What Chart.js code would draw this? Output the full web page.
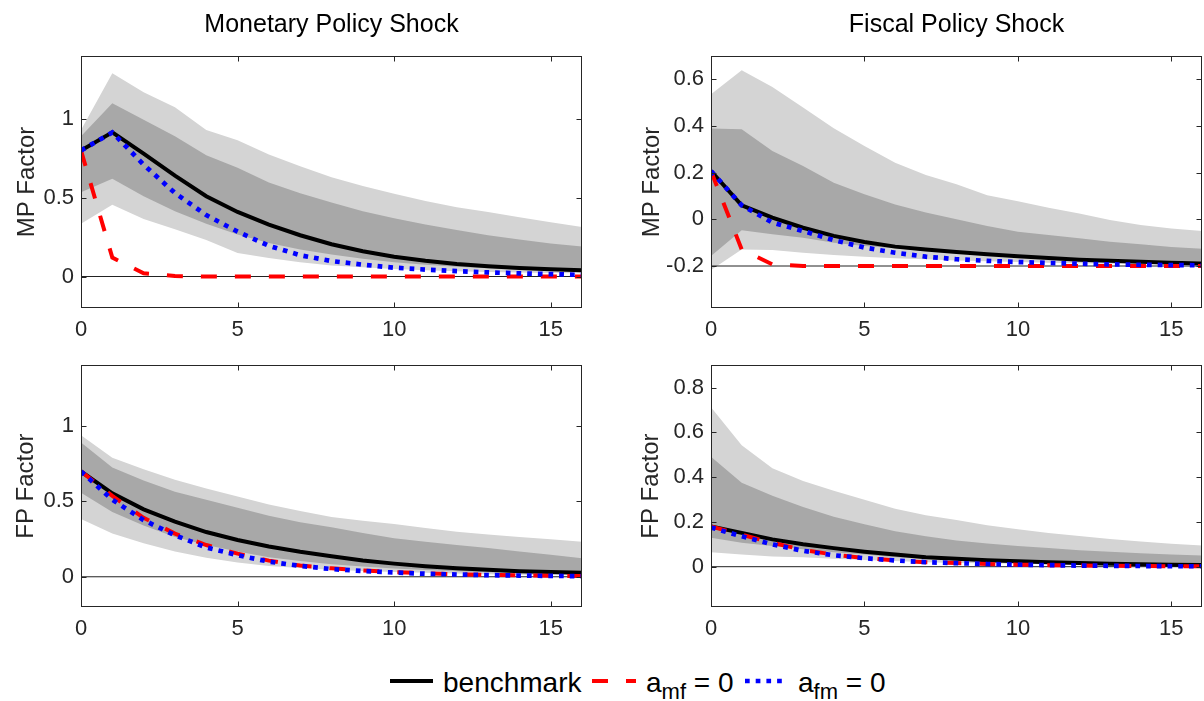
<!DOCTYPE html>
<html>
<head>
<meta charset="utf-8">
<script src="https://cdn.jsdelivr.net/npm/chart.js@4.4.1/dist/chart.umd.min.js"></script>
<style>
  html, body { margin: 0; padding: 0; background: #fff; }
  #fig { position: relative; width: 1204px; height: 701px; overflow: hidden;
         font-family: 'Liberation Sans', Arial, Helvetica, sans-serif; }
  #fig canvas { position: absolute; }
  .lg { position: absolute; top: 667px; font-size: 28px; line-height: 32px; color: #000; white-space: nowrap; }
  .lg .sb { font-size: 22px; position: relative; top: 7px; }
  .sample { position: absolute; top: 676px; }
</style>
</head>
<body>
<div id="fig">
  <canvas id="tl" width="600" height="345" style="left:0;top:0"></canvas>
  <canvas id="tr" width="604" height="345" style="left:600px;top:0"></canvas>
  <canvas id="bl" width="600" height="305" style="left:0;top:345px"></canvas>
  <canvas id="br" width="604" height="305" style="left:600px;top:345px"></canvas>

  <svg class="sample" style="left:390px" width="43" height="10"><line x1="0" y1="5" x2="43" y2="5" stroke="#000" stroke-width="4"/></svg>
  <span class="lg" style="left:443px">benchmark</span>
  <svg class="sample" style="left:592px" width="44" height="10"><line x1="0" y1="5" x2="44" y2="5" stroke="#ff0000" stroke-width="4" stroke-dasharray="16 18"/></svg>
  <span class="lg" style="left:646px">a<span class="sb">mf</span> = 0</span>
  <svg class="sample" style="left:745px" width="37" height="10"><line x1="0" y1="5" x2="37" y2="5" stroke="#0000ff" stroke-width="4.7" stroke-dasharray="4.7 6"/></svg>
  <span class="lg" style="left:798px">a<span class="sb">fm</span> = 0</span>
</div>
<script>
const FONT = "'Liberation Sans', Arial, Helvetica, sans-serif";
const LIGHT = 'rgb(212,212,212)';
const DARK = 'rgb(168,168,168)';

const horizon = [0, 1, 2, 3, 4, 5, 6, 7, 8, 9, 10, 11, 12, 13, 14, 15, 16];
const xTicks = [0, 5, 10, 15];

// MP factor, monetary policy shock
const mpMonBench = [0.80, 0.915, 0.78, 0.64, 0.51, 0.41, 0.33, 0.262, 0.205, 0.16, 0.125, 0.10, 0.08, 0.065, 0.054, 0.046, 0.04];
const mpMonAmf   = [0.80, 0.12, 0.02, 0.003, 0, 0, 0, 0, 0, 0, 0, 0, 0, 0, 0, 0, 0];
const mpMonAfm   = [0.80, 0.915, 0.71, 0.53, 0.39, 0.285, 0.195, 0.135, 0.098, 0.075, 0.056, 0.044, 0.034, 0.026, 0.02, 0.015, 0.01];
const mpMonOuterHi = [0.93, 1.29, 1.17, 1.075, 0.93, 0.865, 0.775, 0.70, 0.63, 0.575, 0.525, 0.48, 0.44, 0.41, 0.376, 0.345, 0.315];
const mpMonOuterLo = [0.335, 0.455, 0.365, 0.30, 0.232, 0.15, 0.118, 0.09, 0.07, 0.058, 0.048, 0.04, 0.034, 0.029, 0.025, 0.022, 0.02];
const mpMonInnerHi = [0.89, 1.10, 0.995, 0.89, 0.77, 0.69, 0.597, 0.528, 0.47, 0.415, 0.37, 0.33, 0.295, 0.262, 0.235, 0.21, 0.19];
const mpMonInnerLo = [0.535, 0.62, 0.51, 0.414, 0.335, 0.266, 0.213, 0.172, 0.14, 0.112, 0.09, 0.075, 0.062, 0.052, 0.044, 0.038, 0.035];

// MP factor, fiscal policy shock
const mpFisBench = [0.207, 0.06, 0.007, -0.036, -0.071, -0.097, -0.117, -0.129, -0.14, -0.15, -0.158, -0.166, -0.173, -0.178, -0.182, -0.186, -0.189];
const mpFisAmf   = [0.207, -0.129, -0.193, -0.2, -0.2, -0.2, -0.2, -0.2, -0.2, -0.2, -0.2, -0.2, -0.2, -0.2, -0.2, -0.2, -0.2];
const mpFisAfm   = [0.207, 0.06, -0.014, -0.05, -0.089, -0.121, -0.143, -0.16, -0.171, -0.178, -0.183, -0.187, -0.19, -0.193, -0.195, -0.196, -0.197];
const mpFisOuterHi = [0.536, 0.639, 0.567, 0.479, 0.39, 0.314, 0.243, 0.19, 0.15, 0.103, 0.077, 0.05, 0.025, -0.003, -0.024, -0.039, -0.05];
const mpFisOuterLo = [-0.217, -0.129, -0.131, -0.143, -0.153, -0.16, -0.167, -0.171, -0.176, -0.18, -0.183, -0.186, -0.188, -0.19, -0.191, -0.192, -0.193];
const mpFisInnerHi = [0.389, 0.386, 0.293, 0.229, 0.157, 0.107, 0.064, 0.029, 0.0, -0.029, -0.053, -0.067, -0.081, -0.096, -0.107, -0.119, -0.126];
const mpFisInnerLo = [-0.157, -0.047, -0.064, -0.079, -0.1, -0.114, -0.124, -0.136, -0.143, -0.15, -0.157, -0.162, -0.167, -0.171, -0.175, -0.178, -0.181];

// FP factor, monetary policy shock
const fpMonBench = [0.697, 0.552, 0.446, 0.365, 0.296, 0.243, 0.2, 0.165, 0.136, 0.108, 0.087, 0.07, 0.056, 0.046, 0.037, 0.031, 0.027];
const fpMonAmf   = [0.697, 0.535, 0.39, 0.286, 0.21, 0.153, 0.107, 0.074, 0.056, 0.042, 0.031, 0.023, 0.017, 0.012, 0.009, 0.006, 0.005];
const fpMonAfm   = [0.697, 0.51, 0.375, 0.275, 0.194, 0.143, 0.1, 0.072, 0.051, 0.038, 0.028, 0.02, 0.015, 0.011, 0.008, 0.006, 0.004];
const fpMonOuterHi = [0.936, 0.787, 0.712, 0.642, 0.584, 0.531, 0.478, 0.435, 0.395, 0.37, 0.35, 0.322, 0.298, 0.28, 0.264, 0.248, 0.232];
const fpMonOuterLo = [0.382, 0.286, 0.222, 0.168, 0.126, 0.094, 0.072, 0.058, 0.047, 0.038, 0.031, 0.026, 0.021, 0.017, 0.014, 0.012, 0.01];
const fpMonInnerHi = [0.889, 0.723, 0.637, 0.563, 0.51, 0.456, 0.403, 0.36, 0.328, 0.29, 0.255, 0.232, 0.21, 0.19, 0.168, 0.145, 0.122];
const fpMonInnerLo = [0.556, 0.429, 0.339, 0.264, 0.211, 0.168, 0.13, 0.104, 0.083, 0.068, 0.055, 0.045, 0.037, 0.03, 0.025, 0.02, 0.017];

// FP factor, fiscal policy shock
const fpFisBench = [0.18, 0.151, 0.122, 0.1, 0.083, 0.067, 0.054, 0.042, 0.035, 0.029, 0.024, 0.02, 0.016, 0.013, 0.011, 0.009, 0.008];
const fpFisAmf   = [0.18, 0.143, 0.107, 0.075, 0.054, 0.039, 0.028, 0.02, 0.016, 0.012, 0.009, 0.007, 0.005, 0.004, 0.003, 0.002, 0.002];
const fpFisAfm   = [0.175, 0.136, 0.1, 0.071, 0.051, 0.038, 0.028, 0.02, 0.016, 0.012, 0.009, 0.007, 0.005, 0.004, 0.003, 0.002, 0.002];
const fpFisOuterHi = [0.712, 0.542, 0.44, 0.383, 0.339, 0.299, 0.259, 0.23, 0.209, 0.185, 0.167, 0.15, 0.137, 0.124, 0.112, 0.103, 0.095];
const fpFisOuterLo = [0.064, 0.054, 0.046, 0.042, 0.035, 0.03, 0.025, 0.02, 0.017, 0.015, 0.013, 0.011, 0.009, 0.008, 0.007, 0.006, 0.005];
const fpFisInnerHi = [0.491, 0.375, 0.317, 0.267, 0.223, 0.19, 0.158, 0.136, 0.117, 0.104, 0.093, 0.083, 0.074, 0.067, 0.06, 0.055, 0.05];
const fpFisInnerLo = [0.129, 0.107, 0.093, 0.078, 0.064, 0.054, 0.042, 0.035, 0.028, 0.023, 0.019, 0.016, 0.013, 0.011, 0.009, 0.008, 0.007];

const yTicksMonetary = [0, 0.5, 1];
const yTicksMpFiscal = [-0.2, 0, 0.2, 0.4, 0.6];
const yTicksFpFiscal = [0, 0.2, 0.4, 0.6, 0.8];

// axes box with inward ticks on all sides, plus title and ylabel
const boxPlugin = {
  id: 'matlabBox',
  afterDatasetsDraw(chart, args, opts) {
    const ctx = chart.ctx;
    const { left, right, top, bottom } = chart.chartArea;
    const l = Math.round(left) + 0.5, r = Math.round(right) - 0.5;
    const t = Math.round(top) + 0.5, b = Math.round(bottom) - 0.5;
    ctx.save();
    ctx.strokeStyle = '#262626';
    ctx.lineWidth = 1;
    ctx.strokeRect(l, t, r - l, b - t);
    ctx.beginPath();
    chart.scales.x.ticks.forEach(tk => {
      const px = Math.round(chart.scales.x.getPixelForValue(tk.value)) + 0.5;
      ctx.moveTo(px, b); ctx.lineTo(px, b - 5);
      ctx.moveTo(px, t); ctx.lineTo(px, t + 5);
    });
    chart.scales.y.ticks.forEach(tk => {
      const py = Math.round(chart.scales.y.getPixelForValue(tk.value)) + 0.5;
      ctx.moveTo(l, py); ctx.lineTo(l + 5, py);
      ctx.moveTo(r, py); ctx.lineTo(r - 5, py);
    });
    ctx.stroke();
    ctx.restore();
  },
  afterDraw(chart, args, opts) {
    const ctx = chart.ctx;
    const { left, right, top, bottom } = chart.chartArea;
    ctx.save();
    if (opts.title) {
      ctx.font = '25px ' + FONT;
      ctx.fillStyle = '#000';
      ctx.textAlign = 'center';
      ctx.textBaseline = 'alphabetic';
      ctx.fillText(opts.title, (left + right) / 2, opts.titleY);
    }
    ctx.font = '24px ' + FONT;
    ctx.fillStyle = '#262626';
    ctx.translate(opts.labelX, (top + bottom) / 2);
    ctx.rotate(-Math.PI / 2);
    ctx.textAlign = 'center';
    ctx.textBaseline = 'alphabetic';
    ctx.fillText(opts.yLabel, 0, 0);
    ctx.restore();
  }
};

function toPoints(ys) {
  return horizon.map((h, i) => ({ x: h, y: ys[i] }));
}

function makePanel(cfg) {
  const band = (ys, color, target, order) => ({
    data: toPoints(ys),
    borderColor: 'transparent',
    borderWidth: 0,
    backgroundColor: color || 'transparent',
    fill: target === undefined ? false : target,
    order: order
  });
  const datasets = [
    band(cfg.outerLo, null, undefined, 6),
    band(cfg.outerHi, LIGHT, 0, 6),
    band(cfg.innerLo, null, undefined, 5),
    band(cfg.innerHi, DARK, 2, 5),
    { data: [{ x: 0, y: cfg.refLevel }, { x: 16, y: cfg.refLevel }], borderColor: '#222', borderWidth: 1, order: 4 },
    { label: 'benchmark', data: toPoints(cfg.bench), borderColor: '#000', borderWidth: 4, order: 3 },
    { label: 'a_mf = 0', data: toPoints(cfg.amf), borderColor: '#ff0000', borderWidth: 4, borderDash: [16, 18], order: 2 },
    { label: 'a_fm = 0', data: toPoints(cfg.afm), borderColor: '#0000ff', borderWidth: 4.7, borderDash: [4.7, 6], order: 1 }
  ];

  new Chart(document.getElementById(cfg.id), {
    type: 'line',
    data: { datasets },
    plugins: [boxPlugin],
    options: {
      responsive: false,
      animation: false,
      devicePixelRatio: 1,
      layout: { padding: { left: 0, top: cfg.padTop, right: cfg.padRight, bottom: 0 } },
      elements: { point: { radius: 0 }, line: { tension: 0, borderCapStyle: 'butt' } },
      plugins: {
        legend: { display: false },
        tooltip: { enabled: false },
        matlabBox: { title: cfg.title, titleY: 32, yLabel: cfg.yLabel, labelX: cfg.labelX }
      },
      scales: {
        x: {
          type: 'linear', min: 0, max: 16,
          grid: { display: false, drawTicks: false },
          border: { display: false },
          ticks: { color: '#262626', font: { family: FONT, size: 22 }, padding: 9, maxRotation: 0, autoSkip: false, callback: v => String(v) },
          afterBuildTicks: s => { s.ticks = xTicks.map(v => ({ value: v })); },
          afterFit: s => { s.height = cfg.xAxisH; }
        },
        y: {
          type: 'linear', min: cfg.yMin, max: cfg.yMax,
          grid: { display: false, drawTicks: false },
          border: { display: false },
          ticks: { color: '#262626', font: { family: FONT, size: 22 }, padding: 7, autoSkip: false, callback: v => String(v) },
          afterBuildTicks: s => { s.ticks = cfg.yTicks.map(v => ({ value: v })); },
          afterFit: s => { s.width = cfg.yAxisW; }
        }
      }
    }
  });
}

makePanel({
  id: 'tl', title: 'Monetary Policy Shock', yLabel: 'MP Factor', labelX: 34,
  yMin: -0.2, yMax: 1.4, yTicks: yTicksMonetary, refLevel: 0,
  yAxisW: 81, padTop: 56, padRight: 18, xAxisH: 37,
  bench: mpMonBench, amf: mpMonAmf, afm: mpMonAfm,
  outerHi: mpMonOuterHi, outerLo: mpMonOuterLo, innerHi: mpMonInnerHi, innerLo: mpMonInnerLo
});
makePanel({
  id: 'tr', title: 'Fiscal Policy Shock', yLabel: 'MP Factor', labelX: 59,
  yMin: -0.38, yMax: 0.7, yTicks: yTicksMpFiscal, refLevel: -0.2,
  yAxisW: 111, padTop: 56, padRight: 2, xAxisH: 37,
  bench: mpFisBench, amf: mpFisAmf, afm: mpFisAfm,
  outerHi: mpFisOuterHi, outerLo: mpFisOuterLo, innerHi: mpFisInnerHi, innerLo: mpFisInnerLo
});
makePanel({
  id: 'bl', title: null, yLabel: 'FP Factor', labelX: 33,
  yMin: -0.2, yMax: 1.4, yTicks: yTicksMonetary, refLevel: 0,
  yAxisW: 81, padTop: 12, padRight: 18, xAxisH: 43,
  bench: fpMonBench, amf: fpMonAmf, afm: fpMonAfm,
  outerHi: fpMonOuterHi, outerLo: fpMonOuterLo, innerHi: fpMonInnerHi, innerLo: fpMonInnerLo
});
makePanel({
  id: 'br', title: null, yLabel: 'FP Factor', labelX: 58,
  yMin: -0.18, yMax: 0.9, yTicks: yTicksFpFiscal, refLevel: 0,
  yAxisW: 111, padTop: 13, padRight: 2, xAxisH: 43,
  bench: fpFisBench, amf: fpFisAmf, afm: fpFisAfm,
  outerHi: fpFisOuterHi, outerLo: fpFisOuterLo, innerHi: fpFisInnerHi, innerLo: fpFisInnerLo
});
</script>
</body>
</html>
